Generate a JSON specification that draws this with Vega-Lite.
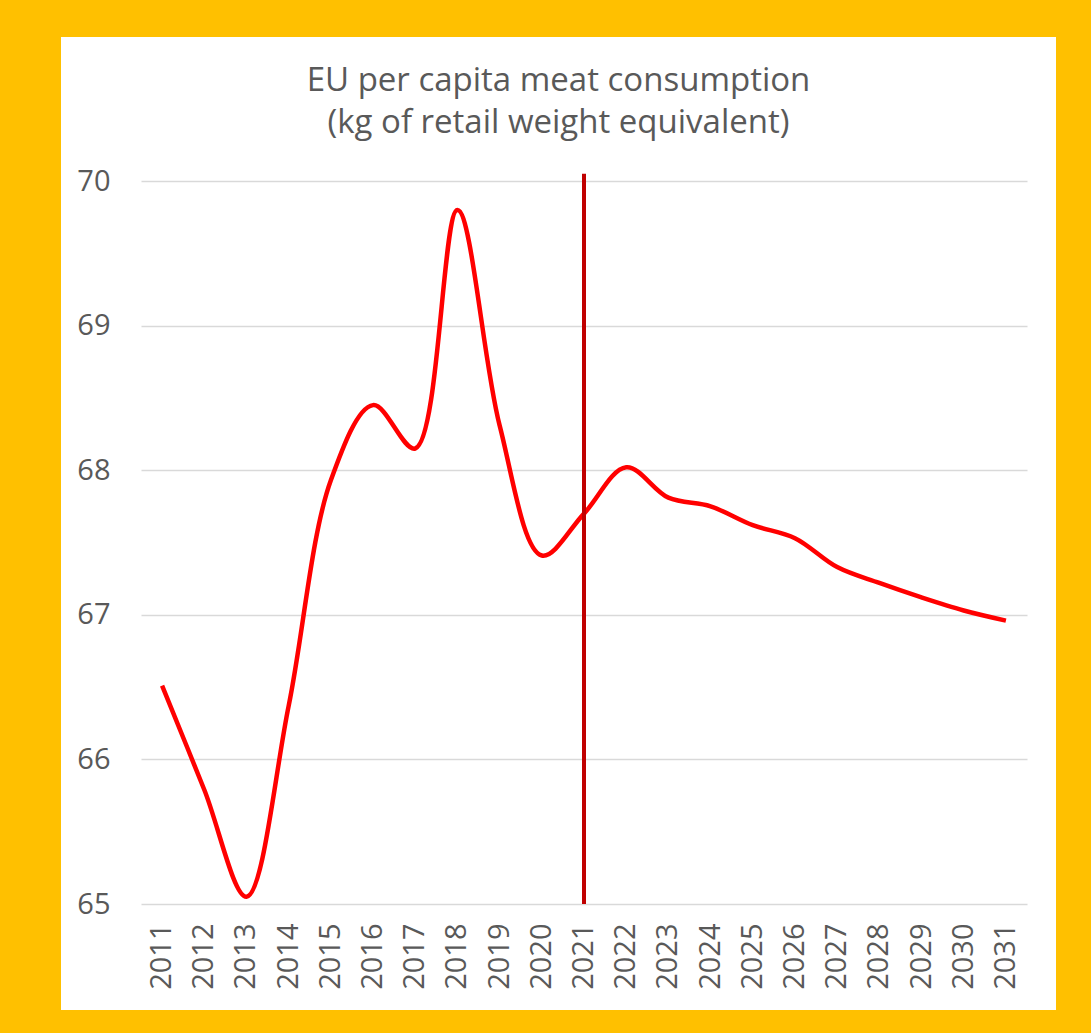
{
  "$schema": "https://vega.github.io/schema/vega-lite/v6.json",
  "width": 995,
  "height": 973,
  "autosize": "none",
  "padding": {"left": 61, "top": 37, "right": 35, "bottom": 23},
  "background": "#FFC000",
  "config": {
    "view": {"fill": "white", "stroke": null},
    "font": "Open Sans"
  },
  "title": {
    "text": ["EU per capita meat consumption", "(kg of retail weight equivalent)"],
    "fontSize": 33,
    "fontWeight": "normal",
    "color": "#595959",
    "anchor": "middle",
    "baseline": "alphabetic",
    "lineHeight": 42,
    "offset": -129
  },
  "data": {
    "values": [
      {"year": "2011", "value": 66.51},
      {"year": "2012", "value": 65.79},
      {"year": "2013", "value": 65.05},
      {"year": "2014", "value": 66.37},
      {"year": "2015", "value": 67.93},
      {"year": "2016", "value": 68.45},
      {"year": "2017", "value": 68.15},
      {"year": "2018", "value": 69.8},
      {"year": "2019", "value": 68.31},
      {"year": "2020", "value": 67.41},
      {"year": "2021", "value": 67.7},
      {"year": "2022", "value": 68.02},
      {"year": "2023", "value": 67.81},
      {"year": "2024", "value": 67.75},
      {"year": "2025", "value": 67.62},
      {"year": "2026", "value": 67.53},
      {"year": "2027", "value": 67.33},
      {"year": "2028", "value": 67.22},
      {"year": "2029", "value": 67.12},
      {"year": "2030", "value": 67.03},
      {"year": "2031", "value": 66.96}
    ]
  },
  "encoding": {
    "x": {
      "field": "year",
      "type": "ordinal",
      "scale": {"type": "band", "range": [80, 966], "paddingInner": 0, "paddingOuter": 0},
      "axis": {
        "title": null,
        "labelAngle": -90,
        "labelFontSize": 29,
        "labelColor": "#595959",
        "labelPadding": 19,
        "ticks": false,
        "domain": false,
        "offset": -106
      }
    }
  },
  "layer": [
    {
      "mark": {"type": "line", "color": "#FF0000", "strokeWidth": 4.5, "interpolate": "catmull-rom", "clip": false},
      "encoding": {
        "y": {
          "field": "value",
          "type": "quantitative",
          "scale": {"domain": [65, 70], "nice": false, "zero": false, "range": [867, 144]},
          "axis": {
            "title": null,
            "values": [65, 66, 67, 68, 69, 70],
            "format": "d",
            "labelFontSize": 29,
            "labelColor": "#595959",
            "labelPadding": 31,
            "ticks": false,
            "domain": false,
            "grid": true,
            "gridColor": "#D9D9D9",
            "gridWidth": 1.5,
            "offset": -80
          }
        }
      }
    },
    {
      "data": {"values": [{"year": "2021", "lo": 65, "hi": 70.05}]},
      "mark": {"type": "rule", "color": "#C00000", "strokeWidth": 4, "clip": false},
      "encoding": {
        "y": {"field": "lo", "type": "quantitative"},
        "y2": {"field": "hi"}
      }
    }
  ]
}
